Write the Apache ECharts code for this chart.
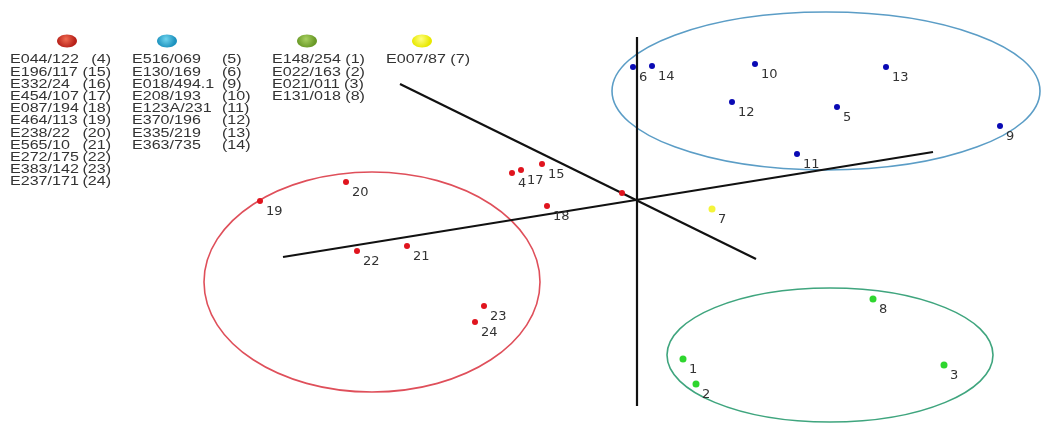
<!DOCTYPE html>
<html>
<head>
<meta charset="utf-8">
<script src="https://cdn.jsdelivr.net/npm/echarts@6/dist/echarts.min.js"></script>
<style>html,body{margin:0;padding:0;background:#fff}#c{width:1041px;height:423px}</style>
</head>
<body>
<div id="c"></div>
<script>
// ---- data (plot units) ----
const redIds = [4, 15, 16, 17, 18, 19, 20, 21, 22, 23, 24];
const redX = [512, 542, 622, 521, 547, 260, 346, 407, 357, 484, 475];
const redY = [173, 164, 193, 170, 206, 201, 182, 246, 251, 306, 322];
const blueIds = [5, 6, 9, 10, 11, 12, 13, 14];
const blueX = [837, 633, 1000, 755, 797, 732, 886, 652];
const blueY = [107, 67, 126, 64, 154, 102, 67, 66];
const greenIds = [1, 2, 3, 8];
const greenX = [683, 696, 944, 873];
const greenY = [359, 384, 365, 299];
const yellowIds = [7];
const yellowX = [712];
const yellowY = [209];
const hiddenLabels = [16];

// group ellipses: [centerX, centerY, radiusX, radiusY]
const redEllipse = [372, 282, 168, 110];
const blueEllipse = [826, 91, 214, 79];
const greenEllipse = [830, 355, 163, 67];

// axis segments
const axisA = [[637, 37], [637, 406]];
const axisB = [[283, 257], [933, 152]];
const axisC = [[400, 84], [756, 259]];

// legend lists
const redNames = ['E044/122', 'E196/117', 'E332/24', 'E454/107', 'E087/194', 'E464/113', 'E238/22', 'E565/10', 'E272/175', 'E383/142', 'E237/171'];
const redNums = ['(4)', '(15)', '(16)', '(17)', '(18)', '(19)', '(20)', '(21)', '(22)', '(23)', '(24)'];
const blueNames = ['E516/069', 'E130/169', 'E018/494.1', 'E208/193', 'E123A/231', 'E370/196', 'E335/219', 'E363/735'];
const blueNums = ['(5)', '(6)', '(9)', '(10)', '(11)', '(12)', '(13)', '(14)'];
const greenNames = ['E148/254 (1)', 'E022/163 (2)', 'E021/011 (3)', 'E131/018 (8)'];
const yellowNames = ['E007/87 (7)'];

function pts(ids, xs, ys) {
  return ids.map((id, i) => ({
    value: [xs[i], ys[i]], name: String(id),
    label: { show: hiddenLabels.indexOf(id) < 0 }
  }));
}

const labelStyle = {
  show: true, position: 'inside', align: 'left', verticalAlign: 'middle',
  offset: [6, 11], formatter: '{b}', color: '#333',
  fontFamily: 'DejaVu Sans', fontSize: 13
};

function scatter(name, ids, xs, ys, color, size) {
  return {
    type: 'scatter', name: name, data: pts(ids, xs, ys), symbol: 'circle',
    symbolSize: size, itemStyle: { color: color, opacity: 1 }, label: labelStyle, z: 5,
    animation: false
  };
}

function ellipse(e, color) {
  return {
    type: 'custom', data: [e], animation: false, silent: true, z: 2,
    renderItem: function (params, api) {
      const c = api.coord([api.value(0), api.value(1)]);
      const s = api.size([api.value(2), api.value(3)]);
      return {
        type: 'ellipse',
        shape: { cx: c[0], cy: c[1], rx: s[0], ry: s[1] },
        style: { fill: 'none', stroke: color, lineWidth: 1.6 }
      };
    }
  };
}

function seg(s) {
  return {
    type: 'line', data: s, symbol: 'none', animation: false, silent: true, z: 3,
    lineStyle: { color: '#111', width: 2.2 }
  };
}

// legend graphics
const graphics = [];
const rowY0 = 60, rowStep = 12.2, sx = 1.34;
const textBase = { fontFamily: 'Liberation Sans', fontSize: 12, fill: '#333' };
function txt(x, y, s, align) {
  graphics.push({
    type: 'text', x: x, y: y, scaleX: sx,
    style: Object.assign({ text: s, textAlign: align || 'left', textVerticalAlign: 'middle' }, textBase)
  });
}
function ball(x, y, c0, c1) {
  graphics.push({
    type: 'ellipse', shape: { cx: x, cy: y, rx: 10, ry: 6.5 },
    style: {
      fill: { type: 'radial', x: 0.45, y: 0.35, r: 0.7,
        colorStops: [{ offset: 0, color: c0 }, { offset: 1, color: c1 }] }
    }
  });
}
ball(67, 41, '#f06a50', '#b8221a');
ball(167, 41, '#6fd4ee', '#1e93bf');
ball(307, 41, '#a8d060', '#6a9a28');
ball(422, 41, '#ffff80', '#e8e800');
redNames.forEach((n, i) => { txt(10, rowY0 + i * rowStep, n); txt(111, rowY0 + i * rowStep, redNums[i], 'right'); });
blueNames.forEach((n, i) => { txt(132, rowY0 + i * rowStep, n); txt(222, rowY0 + i * rowStep, blueNums[i]); });
greenNames.forEach((n, i) => { txt(272, rowY0 + i * rowStep, n); });
yellowNames.forEach((n, i) => { txt(386, rowY0 + i * rowStep, n); });

const chart = echarts.init(document.getElementById('c'));
chart.setOption({
  backgroundColor: '#fff',
  animation: false,
  grid: { left: 0, right: 0, top: 0, bottom: 0 },
  xAxis: { type: 'value', min: 0, max: 1041, show: false },
  yAxis: { type: 'value', min: 0, max: 423, inverse: true, show: false },
  graphic: graphics,
  series: [
    ellipse(redEllipse, '#df4f5a'),
    ellipse(blueEllipse, '#5b9dc6'),
    ellipse(greenEllipse, '#3fa57e'),
    seg(axisA), seg(axisB), seg(axisC),
    scatter('red', redIds, redX, redY, '#e0141e', 6),
    scatter('blue', blueIds, blueX, blueY, '#0a0ab4', 6),
    scatter('green', greenIds, greenX, greenY, '#2ed62e', 7),
    scatter('yellow', yellowIds, yellowX, yellowY, '#f4f43a', 7)
  ]
});
</script>
</body>
</html>
